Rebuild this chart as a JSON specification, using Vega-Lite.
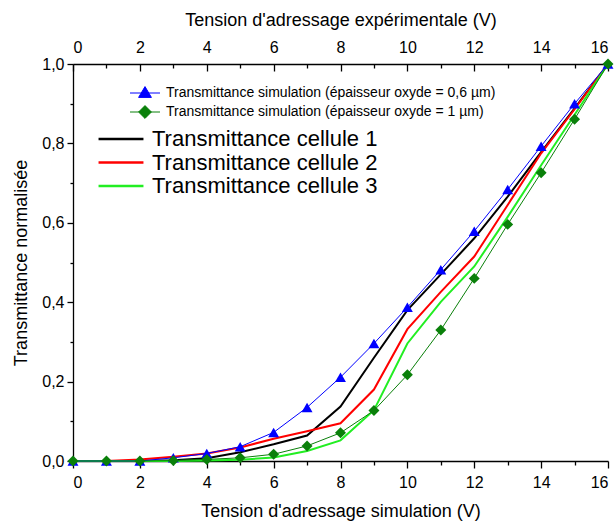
{
  "$schema": "https://vega.github.io/schema/vega-lite/v6.json",
  "width": 535,
  "height": 397,
  "autosize": {"type": "none"},
  "padding": {"left": 73, "top": 64, "right": 8, "bottom": 60},
  "background": "white",
  "config": {
    "font": "Liberation Sans",
    "locale": {"number": {"decimal": ",", "thousands": " ", "grouping": [3], "currency": ["", " €"]}},
    "view": {"stroke": null},
    "axis": {
      "grid": false,
      "domainColor": "black",
      "domainWidth": 1.3,
      "tickColor": "black",
      "tickWidth": 1.3,
      "labelColor": "black",
      "labelFont": "Liberation Sans",
      "labelFontSize": 16,
      "titleFont": "Liberation Sans",
      "titleFontSize": 18,
      "titleFontWeight": "normal",
      "titleColor": "black"
    }
  },
  "datasets": {
    "sim": [
      {"x": 0, "y": 0, "serie": "Transmittance simulation (épaisseur oxyde = 0,6 µm)"},
      {"x": 1, "y": 0, "serie": "Transmittance simulation (épaisseur oxyde = 0,6 µm)"},
      {"x": 2, "y": 0, "serie": "Transmittance simulation (épaisseur oxyde = 0,6 µm)"},
      {"x": 3, "y": 0.008, "serie": "Transmittance simulation (épaisseur oxyde = 0,6 µm)"},
      {"x": 4, "y": 0.019, "serie": "Transmittance simulation (épaisseur oxyde = 0,6 µm)"},
      {"x": 5, "y": 0.036, "serie": "Transmittance simulation (épaisseur oxyde = 0,6 µm)"},
      {"x": 6, "y": 0.072, "serie": "Transmittance simulation (épaisseur oxyde = 0,6 µm)"},
      {"x": 7, "y": 0.135, "serie": "Transmittance simulation (épaisseur oxyde = 0,6 µm)"},
      {"x": 8, "y": 0.211, "serie": "Transmittance simulation (épaisseur oxyde = 0,6 µm)"},
      {"x": 9, "y": 0.296, "serie": "Transmittance simulation (épaisseur oxyde = 0,6 µm)"},
      {"x": 10, "y": 0.387, "serie": "Transmittance simulation (épaisseur oxyde = 0,6 µm)"},
      {"x": 11, "y": 0.482, "serie": "Transmittance simulation (épaisseur oxyde = 0,6 µm)"},
      {"x": 12, "y": 0.579, "serie": "Transmittance simulation (épaisseur oxyde = 0,6 µm)"},
      {"x": 13, "y": 0.684, "serie": "Transmittance simulation (épaisseur oxyde = 0,6 µm)"},
      {"x": 14, "y": 0.793, "serie": "Transmittance simulation (épaisseur oxyde = 0,6 µm)"},
      {"x": 15, "y": 0.9, "serie": "Transmittance simulation (épaisseur oxyde = 0,6 µm)"},
      {"x": 16, "y": 1.0, "serie": "Transmittance simulation (épaisseur oxyde = 0,6 µm)"},
      {"x": 0, "y": 0, "serie": "Transmittance simulation (épaisseur oxyde = 1 µm)"},
      {"x": 1, "y": 0, "serie": "Transmittance simulation (épaisseur oxyde = 1 µm)"},
      {"x": 2, "y": 0, "serie": "Transmittance simulation (épaisseur oxyde = 1 µm)"},
      {"x": 3, "y": 0.001, "serie": "Transmittance simulation (épaisseur oxyde = 1 µm)"},
      {"x": 4, "y": 0.004, "serie": "Transmittance simulation (épaisseur oxyde = 1 µm)"},
      {"x": 5, "y": 0.008, "serie": "Transmittance simulation (épaisseur oxyde = 1 µm)"},
      {"x": 6, "y": 0.017, "serie": "Transmittance simulation (épaisseur oxyde = 1 µm)"},
      {"x": 7, "y": 0.038, "serie": "Transmittance simulation (épaisseur oxyde = 1 µm)"},
      {"x": 8, "y": 0.071, "serie": "Transmittance simulation (épaisseur oxyde = 1 µm)"},
      {"x": 9, "y": 0.127, "serie": "Transmittance simulation (épaisseur oxyde = 1 µm)"},
      {"x": 10, "y": 0.217, "serie": "Transmittance simulation (épaisseur oxyde = 1 µm)"},
      {"x": 11, "y": 0.33, "serie": "Transmittance simulation (épaisseur oxyde = 1 µm)"},
      {"x": 12, "y": 0.46, "serie": "Transmittance simulation (épaisseur oxyde = 1 µm)"},
      {"x": 13, "y": 0.596, "serie": "Transmittance simulation (épaisseur oxyde = 1 µm)"},
      {"x": 14, "y": 0.726, "serie": "Transmittance simulation (épaisseur oxyde = 1 µm)"},
      {"x": 15, "y": 0.861, "serie": "Transmittance simulation (épaisseur oxyde = 1 µm)"},
      {"x": 16, "y": 1.0, "serie": "Transmittance simulation (épaisseur oxyde = 1 µm)"}
    ],
    "cells": [
      {"x": 0, "y": 0, "serie": "Transmittance cellule 1"},
      {"x": 1, "y": 0, "serie": "Transmittance cellule 1"},
      {"x": 2, "y": 0, "serie": "Transmittance cellule 1"},
      {"x": 3, "y": 0.002, "serie": "Transmittance cellule 1"},
      {"x": 4, "y": 0.007, "serie": "Transmittance cellule 1"},
      {"x": 5, "y": 0.022, "serie": "Transmittance cellule 1"},
      {"x": 6, "y": 0.042, "serie": "Transmittance cellule 1"},
      {"x": 7, "y": 0.064, "serie": "Transmittance cellule 1"},
      {"x": 8, "y": 0.137, "serie": "Transmittance cellule 1"},
      {"x": 9, "y": 0.26, "serie": "Transmittance cellule 1"},
      {"x": 10, "y": 0.38, "serie": "Transmittance cellule 1"},
      {"x": 11, "y": 0.47, "serie": "Transmittance cellule 1"},
      {"x": 12, "y": 0.561, "serie": "Transmittance cellule 1"},
      {"x": 13, "y": 0.666, "serie": "Transmittance cellule 1"},
      {"x": 14, "y": 0.778, "serie": "Transmittance cellule 1"},
      {"x": 15, "y": 0.888, "serie": "Transmittance cellule 1"},
      {"x": 16, "y": 1.0, "serie": "Transmittance cellule 1"},
      {"x": 0, "y": 0, "serie": "Transmittance cellule 2"},
      {"x": 1, "y": 0, "serie": "Transmittance cellule 2"},
      {"x": 2, "y": 0.004, "serie": "Transmittance cellule 2"},
      {"x": 3, "y": 0.011, "serie": "Transmittance cellule 2"},
      {"x": 4, "y": 0.019, "serie": "Transmittance cellule 2"},
      {"x": 5, "y": 0.034, "serie": "Transmittance cellule 2"},
      {"x": 6, "y": 0.056, "serie": "Transmittance cellule 2"},
      {"x": 7, "y": 0.075, "serie": "Transmittance cellule 2"},
      {"x": 8, "y": 0.095, "serie": "Transmittance cellule 2"},
      {"x": 9, "y": 0.18, "serie": "Transmittance cellule 2"},
      {"x": 10, "y": 0.332, "serie": "Transmittance cellule 2"},
      {"x": 11, "y": 0.426, "serie": "Transmittance cellule 2"},
      {"x": 12, "y": 0.515, "serie": "Transmittance cellule 2"},
      {"x": 13, "y": 0.645, "serie": "Transmittance cellule 2"},
      {"x": 14, "y": 0.775, "serie": "Transmittance cellule 2"},
      {"x": 15, "y": 0.886, "serie": "Transmittance cellule 2"},
      {"x": 16, "y": 1.0, "serie": "Transmittance cellule 2"},
      {"x": 0, "y": 0, "serie": "Transmittance cellule 3"},
      {"x": 1, "y": 0, "serie": "Transmittance cellule 3"},
      {"x": 2, "y": 0, "serie": "Transmittance cellule 3"},
      {"x": 3, "y": 0, "serie": "Transmittance cellule 3"},
      {"x": 4, "y": 0.001, "serie": "Transmittance cellule 3"},
      {"x": 5, "y": 0.003, "serie": "Transmittance cellule 3"},
      {"x": 6, "y": 0.009, "serie": "Transmittance cellule 3"},
      {"x": 7, "y": 0.025, "serie": "Transmittance cellule 3"},
      {"x": 8, "y": 0.052, "serie": "Transmittance cellule 3"},
      {"x": 9, "y": 0.128, "serie": "Transmittance cellule 3"},
      {"x": 10, "y": 0.296, "serie": "Transmittance cellule 3"},
      {"x": 11, "y": 0.401, "serie": "Transmittance cellule 3"},
      {"x": 12, "y": 0.49, "serie": "Transmittance cellule 3"},
      {"x": 13, "y": 0.615, "serie": "Transmittance cellule 3"},
      {"x": 14, "y": 0.745, "serie": "Transmittance cellule 3"},
      {"x": 15, "y": 0.872, "serie": "Transmittance cellule 3"},
      {"x": 16, "y": 1.0, "serie": "Transmittance cellule 3"}
    ]
  },
  "encoding": {
    "y": {
      "field": "y", "type": "quantitative",
      "scale": {"domain": [0, 1], "nice": false},
      "axis": {
        "orient": "left",
        "title": "Transmittance normalisée",
        "values": [0, 0.1, 0.2, 0.3, 0.4, 0.5, 0.6, 0.7, 0.8, 0.9, 1],
        "format": ".1f",
        "labelExpr": "round(datum.value * 10) % 2 == 0 ? datum.label : ''",
        "tickSize": {"condition": {"test": "round(datum.value * 10) % 2 == 1", "value": 3}, "value": 6},
        "labelPadding": 3,
        "titlePadding": 11
      }
    }
  },
  "layer": [
    {
      "data": {"name": "cells"},
      "mark": {"type": "line", "strokeWidth": 2, "clip": false},
      "encoding": {
        "x": {
          "field": "x", "type": "quantitative",
          "scale": {"domain": [0, 16], "nice": false, "zero": false},
          "axis": {
            "orient": "top",
            "title": "Tension d'adressage expérimentale (V)",
            "values": [0,1,2,3,4,5,6,7,8,9,10,11,12,13,14,15,16],
            "labelExpr": "datum.value % 2 == 0 ? datum.label : ''",
            "tickSize": {"condition": {"test": "datum.value % 2 == 1", "value": -4}, "value": -7},
            "labelPadding": 16,
            "titlePadding": 10
          }
        },
        "color": {
          "field": "serie", "type": "nominal",
          "scale": {
            "domain": ["Transmittance cellule 1", "Transmittance cellule 2", "Transmittance cellule 3"],
            "range": ["#000000", "#ff0000", "#22ee22"]
          },
          "legend": {
            "title": null,
            "orient": "none",
            "legendX": 37,
            "legendY": 64,
            "padding": 0,
            "labelFont": "Liberation Sans",
            "labelFontSize": 22,
            "labelColor": "black",
            "labelLimit": 400,
            "symbolType": "M-4.1,0H4.1",
            "symbolSize": 120,
            "symbolStrokeWidth": 2.5,
            "labelOffset": 20,
            "rowPadding": 1.5
          }
        }
      }
    },
    {
      "data": {"name": "sim"},
      "mark": {"type": "line", "strokeWidth": 1, "clip": false},
      "encoding": {
        "x": {
          "field": "x", "type": "quantitative",
          "scale": {"domain": [0, 16], "nice": false, "zero": false},
          "axis": {
            "orient": "bottom",
            "title": "Tension d'adressage simulation (V)",
            "values": [0,1,2,3,4,5,6,7,8,9,10,11,12,13,14,15,16],
            "labelExpr": "datum.value % 2 == 0 ? datum.label : ''",
            "tickSize": {"condition": {"test": "datum.value % 2 == 1", "value": 4}, "value": 7},
            "labelPadding": 6,
            "titlePadding": 12
          }
        },
        "color": {
          "field": "serie", "type": "nominal",
          "scale": {
            "domain": ["Transmittance simulation (épaisseur oxyde = 0,6 µm)", "Transmittance simulation (épaisseur oxyde = 1 µm)"],
            "range": ["#0000ff", "#0a800a"]
          },
          "legend": {
            "title": null,
            "orient": "none",
            "legendX": 65,
            "legendY": 22,
            "padding": 0,
            "labelFont": "Liberation Sans",
            "labelFontSize": 14,
            "labelColor": "black",
            "labelLimit": 400,
            "symbolSize": 64,
            "symbolStrokeWidth": 1,
            "labelOffset": 14,
            "rowPadding": 3,
            "encode": {
              "symbols": {
                "update": {
                  "shape": {"signal": "indexof(datum.value, '0,6') >= 0 ? 'M-3.75,0H3.75M0,-1.6L1.6,1.1L-1.6,1.1Z' : 'M-3.75,0H3.75M0,-1.6L1.6,0L0,1.6L-1.6,0Z'"},
                  "fill": {"signal": "indexof(datum.value, '0,6') >= 0 ? '#0000ff' : '#0a800a'"},
                  "stroke": {"signal": "indexof(datum.value, '0,6') >= 0 ? '#0000ff' : '#0a800a'"},
                  "opacity": {"value": 1}
                }
              }
            }
          }
        }
      }
    },
    {
      "data": {"name": "sim"},
      "mark": {"type": "point", "filled": true, "size": 120, "opacity": 1, "clip": false},
      "encoding": {
        "x": {"field": "x", "type": "quantitative", "axis": null},
        "color": {
          "field": "serie", "type": "nominal",
          "scale": {
            "domain": ["Transmittance simulation (épaisseur oxyde = 0,6 µm)", "Transmittance simulation (épaisseur oxyde = 1 µm)"],
            "range": ["#0000ff", "#0a800a"]
          },
          "legend": null
        },
        "shape": {
          "field": "serie", "type": "nominal",
          "scale": {
            "domain": ["Transmittance simulation (épaisseur oxyde = 0,6 µm)", "Transmittance simulation (épaisseur oxyde = 1 µm)"],
            "range": ["triangle-up", "diamond"]
          },
          "legend": null
        }
      }
    }
  ],
  "resolve": {
    "scale": {"color": "independent"},
    "legend": {"color": "independent"},
    "axis": {"x": "independent"}
  }
}
